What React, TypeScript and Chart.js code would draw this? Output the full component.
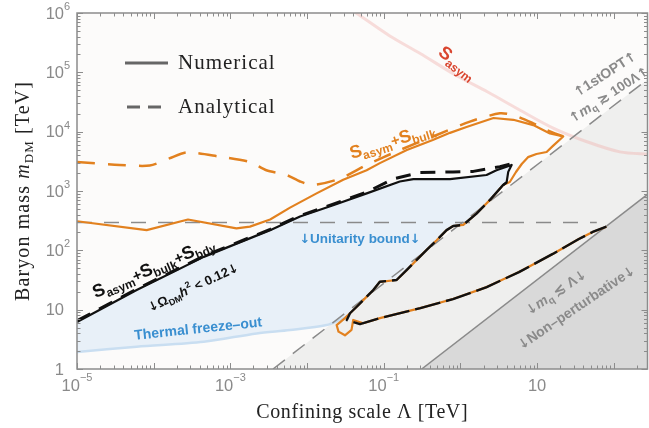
import React, { useEffect, useRef } from "react";
import { Chart, registerables } from "chart.js";

Chart.register(...registerables);

const X_MIN = 1e-5;
const X_MAX = 275;
const Y_MIN = 1;
const Y_MAX = 1e6;

// ---- tick labels ----
const xTickValues = [1e-5, 1e-3, 1e-1, 10];
const xTickExps = ["−5", "−3", "−1", ""];
const yTickValues = [1, 10, 100, 1e3, 1e4, 1e5, 1e6];
const yTickBases = ["1", "10", "10", "10", "10", "10", "10"];
const yTickExps = ["", "", "2", "3", "4", "5", "6"];

// ---- series values [Λ (TeV), m_DM (TeV)] ----
const orangeUpper = [
  [1e-5, 309], [8.1e-5, 219], [2.8e-4, 331], [1.2e-3, 234], [1.8e-3, 251],
  [3.3e-3, 331], [6.0e-3, 525], [0.0133, 912], [0.0296, 1550], [0.0598, 2240],
  [0.089, 2950], [0.2, 4900], [0.436, 7240], [0.73, 9550], [1.2, 12000],
  [2.7, 17000], [4.9, 15850], [8.9, 12900], [14.7, 9300], [21.9, 8300],
];
const orangeRidge = [
  [16.1, 5750], [13.3, 4550], [9.8, 4200], [7.6, 3720], [6.3, 2850],
  [5.3, 2090], [4.4, 1420],
];
const sharedDescent = [
  [3.6, 1260], [2.43, 708], [1.62, 417], [1.09, 269], [0.805, 257],
  [0.66, 219], [0.49, 148], [0.363, 102], [0.269, 69], [0.2, 46.8],
  [0.147, 31.6], [0.089, 29.5], [0.073, 21.4], [0.06, 16.6], [0.0444, 11.2],
  [0.0363, 8.7],
];
const orangeLoop = [
  [0.0312, 7.2], [0.0243, 5.5], [0.0257, 4.27], [0.0312, 3.7], [0.038, 4.57],
  [0.04, 6.7], [0.054, 5.9],
];
const blackBottomKink = [[0.033, 6.7], [0.049, 5.7]];
const sharedLower = [
  [0.089, 7.2], [0.3, 10.6], [0.8, 15.1], [2.2, 24], [5.8, 43],
  [16, 87], [35, 155], [53, 204], [80, 250],
];
const blackUpper = [
  [1e-5, 6.2], [6e-5, 21.4], [4.5e-4, 77.6], [3.3e-3, 219], [8.1e-3, 372],
  [0.0219, 575], [0.06, 912], [0.162, 1445], [0.243, 1585], [0.73, 1585],
  [2.19, 1860], [2.95, 2240], [4.65, 2750], [4.2, 2100], [4.0, 1400],
];
const blackAnalyticalUpper = [
  [1e-5, 6.5], [6e-5, 22.3], [4.5e-4, 80], [3.3e-3, 226], [8.1e-3, 385],
  [0.0219, 600], [0.06, 960], [0.133, 1600], [0.3, 2050], [0.8, 2100],
  [1.47, 2140], [3.27, 2570], [4.42, 2850],
];
const orangeAnalytical = [
  [1e-5, 3090], [3.6e-5, 2750], [8.9e-5, 2690], [1.6e-4, 3550], [2.7e-4, 4470],
  [7.2e-4, 3800], [1.8e-3, 3090], [2.95e-3, 2240], [5.4e-3, 1860], [8.1e-3, 1445],
  [0.012, 1260], [0.027, 1620], [0.06, 2750], [0.162, 4900], [0.44, 8300],
  [1.33, 14800], [3.27, 20400], [4.9, 19000], [8.9, 13800], [13.3, 10700],
  [21.9, 8300],
];
const freezeOut = [
  [1e-5, 1.94], [6e-5, 2.38], [4.5e-4, 2.88], [2.2e-3, 3.98], [6e-3, 4.54],
  [0.018, 5.5], [0.027, 6.76], [0.036, 8.1],
];
const sAsymLine = [
  [0.025, 1.6e6], [0.0437, 1e6], [0.12, 4.1e5], [0.295, 2.1e5], [0.85, 9.1e4],
  [2.24, 4.7e4], [6.0, 2.3e4], [16.2, 1.15e4], [44.7, 6760], [120, 4570],
  [270, 4170], [400, 4100],
];
const unitarityBound = [[1e-5, 295], [60, 295]];
const firstOPTBoundary = [[0.0036, 1], [275, 7.6e4]];
const nonPertBoundary = [[0.3125, 1], [275, 880]];

// ---- styling / annotation config ----
const SANS = '"Liberation Sans", Arial, sans-serif';
const ARROW = '"DejaVu Sans", sans-serif';
const SERIF = '"Liberation Serif", "Times New Roman", serif';
const GRAY_TXT = "#8a8a8a";
const ORANGE = "#e2811f";
const BLUE_TXT = "#3a8fd0";

type Part = { t: string; s: number; dy?: number; it?: boolean; w?: string; f?: string };
type Ann = { x: number; y: number; angle: number; color: string; parts: Part[] };

const annotations: Ann[] = [
  { x: 0.93, y: 1.48e5, angle: 38, color: "#d9452f",
    parts: [{ t: "S", s: 18 }, { t: "asym", s: 12, dy: 4 }] },
  { x: 0.128, y: 7240, angle: -17, color: ORANGE,
    parts: [{ t: "S", s: 18 }, { t: "asym", s: 12, dy: 4 }, { t: "+", s: 15 },
      { t: "S", s: 18 }, { t: "bulk", s: 12, dy: 4 }] },
  { x: 9.8e-5, y: 52.5, angle: -23, color: "#111",
    parts: [{ t: "S", s: 18 }, { t: "asym", s: 12, dy: 4 }, { t: "+", s: 15 },
      { t: "S", s: 18 }, { t: "bulk", s: 12, dy: 4 }, { t: "+", s: 15 },
      { t: "S", s: 18 }, { t: "bdy", s: 12, dy: 4 }] },
  { x: 3.24e-4, y: 24, angle: -25, color: "#111",
    parts: [{ t: "↓Ω", s: 13 }, { t: "DM", s: 9, dy: 3 }, { t: "h", s: 13, it: true },
      { t: "2", s: 9, dy: -6 }, { t: " < 0.12↓", s: 13 }] },
  { x: 3.8e-4, y: 4.9, angle: -6, color: BLUE_TXT,
    parts: [{ t: "Thermal freeze–out", s: 14 }] },
  { x: 0.049, y: 162, angle: 0, color: BLUE_TXT,
    parts: [{ t: "↓Unitarity bound↓", s: 13.5 }] },
  { x: 76, y: 9.5e4, angle: -33, color: GRAY_TXT,
    parts: [{ t: "↑1stOPT↑", s: 14 }] },
  { x: 85, y: 4.3e4, angle: -33, color: GRAY_TXT,
    parts: [{ t: "↑", s: 14 }, { t: "m", s: 14, it: true }, { t: "q", s: 10, dy: 3 },
      { t: " ≳ 100Λ↑", s: 13.5 }] },
  { x: 17.5, y: 20, angle: -34, color: GRAY_TXT,
    parts: [{ t: "↓", s: 14 }, { t: "m", s: 14, it: true }, { t: "q", s: 10, dy: 3 },
      { t: " ≲ Λ↓", s: 14 }] },
  { x: 32, y: 11, angle: -34, color: GRAY_TXT,
    parts: [{ t: "↓Non–perturbative↓", s: 14 }] },
];

function splitArrows(parts: Part[]): Part[] {
  const out: Part[] = [];
  parts.forEach((p) => {
    p.t.split(/([↑↓])/).forEach((piece) => {
      if (!piece) return;
      if (piece === "↑" || piece === "↓") out.push({ ...p, t: piece, f: ARROW, s: p.s * 0.95, it: false });
      else out.push({ ...p, t: piece });
    });
  });
  return out;
}

function drawRich(ctx: CanvasRenderingContext2D, rawParts: Part[], cx: number, cy: number,
  angle: number, color: string, family: string, spacing = 0) {
  const parts = splitArrows(rawParts);
  ctx.save();
  ctx.translate(cx, cy);
  ctx.rotate((angle * Math.PI) / 180);
  ctx.fillStyle = color;
  ctx.textBaseline = "alphabetic";
  (ctx as any).letterSpacing = spacing + "px";
  const fontOf = (p: Part) =>
    `${p.it ? "italic " : ""}${p.w ?? "bold"} ${p.s}px ${p.f ?? family}`;
  let total = 0;
  const ws = parts.map((p) => {
    ctx.font = fontOf(p);
    const w = ctx.measureText(p.t).width;
    total += w;
    return w;
  });
  const main = Math.max(...parts.map((p) => p.s));
  const base = main * 0.36;
  let x = -total / 2;
  parts.forEach((p, i) => {
    ctx.font = fontOf(p);
    ctx.fillText(p.t, x, base + (p.dy || 0));
    x += ws[i];
  });
  ctx.restore();
}

const pts = (arr: number[][]) => arr.map(([x, y]) => ({ x, y }));

const bgPlugin = {
  id: "plotBg",
  beforeDatasetsDraw(chart: any) {
    const { ctx, chartArea: a } = chart;
    ctx.save();
    ctx.fillStyle = "#fcfbfa";
    ctx.fillRect(a.left, a.top, a.right - a.left, a.bottom - a.top);
    ctx.restore();
  },
};

const overlayPlugin = {
  id: "overlay",
  afterDatasetsDraw(chart: any) {
    const { ctx, chartArea: a, scales } = chart;
    const xs = scales.x;
    const ys = scales.y;

    annotations.forEach((an) => {
      drawRich(ctx, an.parts, xs.getPixelForValue(an.x), ys.getPixelForValue(an.y),
        an.angle, an.color, SANS);
    });

    // frame and ticks
    ctx.save();
    ctx.strokeStyle = "#8c8c8c";
    ctx.lineWidth = 1;
    const seg = (x1: number, y1: number, x2: number, y2: number) => {
      ctx.beginPath();
      ctx.moveTo(x1, y1);
      ctx.lineTo(x2, y2);
      ctx.stroke();
    };
    for (let d = -5; d <= 2; d++) {
      for (let k = 1; k <= 9; k++) {
        const v = k * Math.pow(10, d);
        if (v < X_MIN * 0.999 || v > X_MAX) continue;
        const px = Math.round(xs.getPixelForValue(v)) + 0.5;
        const len = k === 1 ? 6 : 3.5;
        seg(px, a.bottom, px, a.bottom - len);
        seg(px, a.top, px, a.top + len);
      }
    }
    for (let d = 0; d <= 6; d++) {
      for (let k = 1; k <= 9; k++) {
        const v = k * Math.pow(10, d);
        if (v > Y_MAX * 1.001) continue;
        const py = Math.round(ys.getPixelForValue(v)) + 0.5;
        const len = k === 1 ? 6 : 3.5;
        seg(a.left, py, a.left + len, py);
        seg(a.right, py, a.right - len, py);
      }
    }
    ctx.lineWidth = 1.5;
    ctx.strokeRect(a.left, a.top, a.right - a.left, a.bottom - a.top);
    ctx.restore();

    // tick labels
    ctx.save();
    ctx.fillStyle = GRAY_TXT;
    ctx.textBaseline = "middle";
    const baseFont = `16.5px ${SANS}`;
    const supFont = `11px ${SANS}`;
    xTickValues.forEach((v, i) => {
      const px = xs.getPixelForValue(v);
      ctx.font = baseFont;
      const wb = ctx.measureText("10").width;
      ctx.font = supFont;
      const we = ctx.measureText(xTickExps[i]).width;
      const start = px - (wb + we) / 2;
      ctx.font = baseFont;
      ctx.textAlign = "left";
      ctx.fillText("10", start, 386);
      ctx.font = supFont;
      ctx.fillText(xTickExps[i], start + wb, 378);
    });
    yTickValues.forEach((v, i) => {
      const py = ys.getPixelForValue(v);
      ctx.font = baseFont;
      ctx.textAlign = "right";
      ctx.fillText(yTickBases[i], 64, py + 1);
      ctx.font = supFont;
      ctx.textAlign = "left";
      ctx.fillText(yTickExps[i], 64, py - 6);
    });
    ctx.restore();

    // legend
    ctx.save();
    ctx.strokeStyle = "#666";
    ctx.lineWidth = 3;
    ctx.beginPath();
    ctx.moveTo(125, 63);
    ctx.lineTo(168, 63);
    ctx.stroke();
    ctx.setLineDash([13, 8]);
    ctx.beginPath();
    ctx.moveTo(127, 107);
    ctx.lineTo(161, 107);
    ctx.stroke();
    ctx.setLineDash([]);
    ctx.fillStyle = "#222";
    ctx.font = `21px ${SERIF}`;
    (ctx as any).letterSpacing = "1px";
    ctx.textBaseline = "middle";
    ctx.textAlign = "left";
    ctx.fillText("Numerical", 178, 63);
    ctx.fillText("Analytical", 178, 107);
    ctx.restore();

    // axis titles
    ctx.save();
    ctx.fillStyle = "#222";
    ctx.font = `20px ${SERIF}`;
    (ctx as any).letterSpacing = "0.6px";
    ctx.textAlign = "center";
    ctx.textBaseline = "middle";
    ctx.fillText("Confining scale Λ [TeV]", (a.left + a.right) / 2, 413);
    ctx.restore();
    drawRich(ctx, [
      { t: "Baryon mass ", s: 20, w: "normal" },
      { t: "m", s: 20, w: "normal", it: true },
      { t: "DM", s: 13, w: "normal", dy: 4 },
      { t: " [TeV]", s: 20, w: "normal" },
    ], 22, 191, -90, "#222", SERIF, 1.1);
  },
};

export default function App() {
  const ref = useRef<HTMLCanvasElement>(null);
  useEffect(() => {
    if (!ref.current) return;
    const line = (data: number[][], o: any) => ({
      data: pts(data),
      showLine: true,
      pointRadius: 0,
      pointHoverRadius: 0,
      borderWidth: 2,
      fill: false,
      tension: 0,
      borderJoinStyle: "round",
      borderCapStyle: "butt",
      clip: 0,
      ...o,
    });
    const fillShape = (data: number[][], color: string, order: number) =>
      line(data, {
        fill: "shape",
        backgroundColor: color,
        borderColor: "rgba(0,0,0,0)",
        borderWidth: 0,
        order,
      });
    const lightGrayFill = [...firstOPTBoundary, [X_MAX, Y_MIN]];
    const darkGrayFill = [...nonPertBoundary, [X_MAX, Y_MIN]];
    const blueFill = [...blackUpper, ...sharedDescent, ...freezeOut.slice().reverse()];
    const orangeNumerical = [...orangeUpper, ...orangeRidge, ...sharedDescent, ...orangeLoop, ...sharedLower];
    const blackLowerBranch = [[4.0, 1400], ...sharedDescent, ...blackBottomKink, ...sharedLower];
    const blackNumerical = [...blackUpper, [3.6, 1260]];

    const chart = new Chart(ref.current, {
      type: "line",
      data: {
        datasets: [
          fillShape(lightGrayFill, "#efefee", 20),
          fillShape(darkGrayFill, "#d9d9d9", 19),
          fillShape(blueFill, "#e8f0f8", 18),
          line(freezeOut, { borderColor: "#c9def1", borderWidth: 2.5, tension: 0.3, order: 17 }),
          line(sAsymLine, { borderColor: "rgba(240,175,170,0.4)", borderWidth: 3, tension: 0.3, order: 16 }),
          line(firstOPTBoundary, { borderColor: "#8a8a8a", borderWidth: 1.5, borderDash: [15, 10], order: 15 }),
          line(nonPertBoundary, { borderColor: "#8a8a8a", borderWidth: 1.5, order: 14 }),
          line(unitarityBound, { borderColor: "#8a8a8a", borderWidth: 1.5, borderDash: [15, 12], order: 13 }),
          line(orangeAnalytical, { borderColor: ORANGE, borderWidth: 2.5, borderDash: [18, 13], tension: 0.25, order: 6 }),
          line(orangeNumerical, { borderColor: ORANGE, borderWidth: 2.2, order: 5 }),
          line(blackAnalyticalUpper, { borderColor: "#111", borderWidth: 3, borderDash: [15, 10], order: 3 }),
          line(blackNumerical, { borderColor: "#111", borderWidth: 2.2, order: 2 }),
          line(blackLowerBranch, { borderColor: "#111", borderWidth: 2.4, borderDash: [26, 6], order: 1 }),
        ],
      },
      options: {
        animation: false,
        responsive: false,
        devicePixelRatio: 1,
        events: [],
        layout: { padding: { left: 77, right: 1.5, top: 13, bottom: 59 } },
        plugins: { legend: { display: false }, tooltip: { enabled: false } },
        scales: {
          x: { type: "logarithmic", min: X_MIN, max: X_MAX, display: false },
          y: { type: "logarithmic", min: Y_MIN, max: Y_MAX, display: false },
        },
      } as any,
      plugins: [bgPlugin, overlayPlugin],
    });
    return () => chart.destroy();
  }, []);

  return (
    <div style={{ position: "absolute", left: 0, top: 0, width: 649, height: 428, background: "#fff" }}>
      <canvas ref={ref} width={649} height={428} style={{ display: "block", width: 649, height: 428 }} />
    </div>
  );
}
